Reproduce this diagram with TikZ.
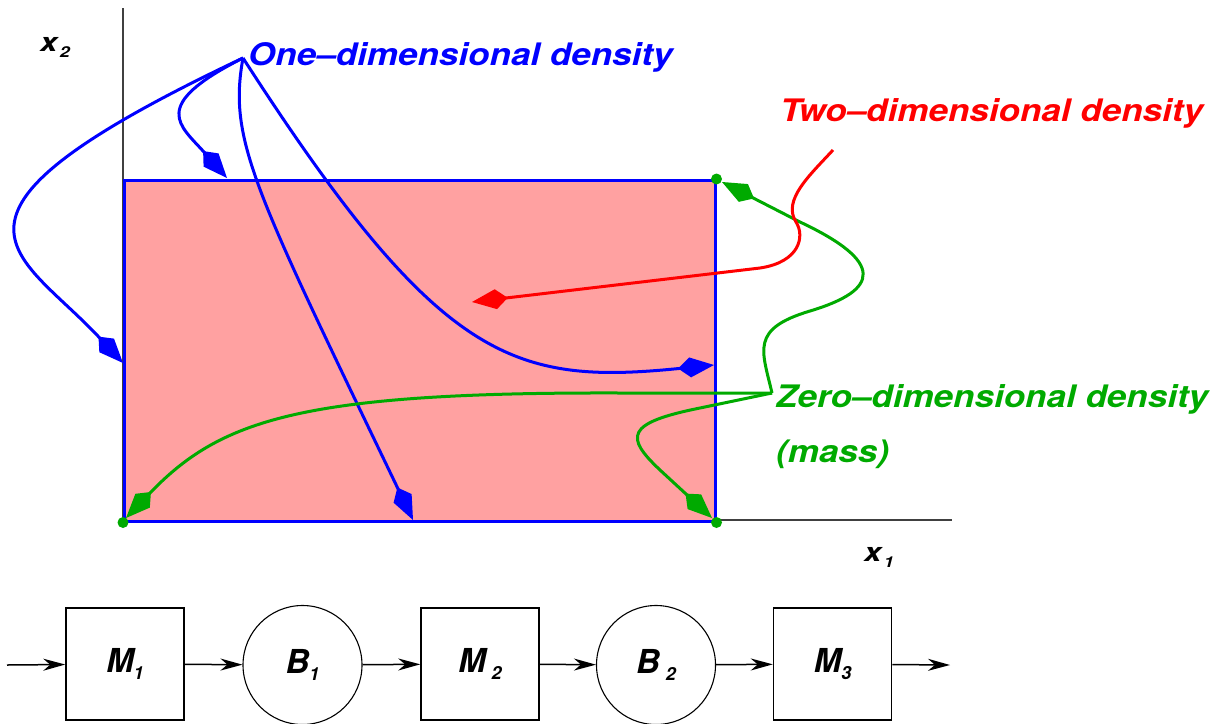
\documentclass[tikz,border=0pt]{standalone}
\usepackage{fontspec}
\setmainfont{TeX Gyre Heros}
\usetikzlibrary{arrows.meta}
\definecolor{pinkfill}{RGB}{255,161,161}
\definecolor{fgblue}{RGB}{0,0,255}
\definecolor{fggreen}{RGB}{0,170,0}
\definecolor{fgred}{RGB}{255,0,0}
\newcommand\bigfont{\fontsize{31}{31}\selectfont\bfseries\itshape}
\newcommand\stretchx[1]{\scalebox{1.13}[1]{#1}}
\newcommand\subl[3]{{\fontsize{33}{33}\selectfont\bfseries\itshape #1\hspace{#3}\raisebox{-7pt}{\fontsize{18}{18}\selectfont #2}}}
\newcommand\axl[2]{\scalebox{1.2}[1]{\fontsize{26}{26}\selectfont\bfseries\itshape #1\hspace{2pt}\raisebox{-6pt}{\fontsize{15}{15}\selectfont #2}}}
\begin{document}
\begin{tikzpicture}[x=1pt,y=-1pt,
  kite/.style={-{Kite[length=36pt,width=20pt,inset=12pt]}},
  dcurve/.style={line width=3pt, kite},
  axisline/.style={line width=1.4pt, black!75},
  dot/.style={circle, fill=fggreen, inner sep=0pt, minimum size=11pt},
  mbox/.style={draw, line width=1.5pt, minimum width=118pt, minimum height=112pt, inner sep=0pt},
  bcirc/.style={draw, circle, line width=1.1pt, minimum size=119pt, inner sep=0pt},
  flow/.style={line width=1.5pt, -{Stealth[length=22pt,width=12pt,inset=7pt]}},
  txt/.style={anchor=base west, inner sep=0pt}]
\useasboundingbox (0,0) rectangle (1214,723);
% axes
\coordinate (ytop) at (123,8);
\coordinate (orig) at (123,520);
\coordinate (xend) at (952,520);
\draw[axisline] (ytop) -- (orig) -- (xend);
\node[txt] (x2) at (40,51) {\axl{x}{2}};
\node[txt] (x1) at (864,561) {\axl{x}{1}};
% region
\node[draw=fgblue, fill=pinkfill, line width=2.5pt, minimum width=591pt, minimum height=341pt, inner sep=0pt, anchor=north west] (rect) at (123,179) {};
\node[dot] (dTR) at (rect.north east) {};
\node[dot] (dBL) at (rect.south west) {};
\node[dot] (dBR) at (rect.south east) {};
% labels
\node[txt, text=fgblue] (one) at (248,65) {\bigfont\stretchx{One–dimensional density}};
\node[txt, text=fgred] (two) at (780,121) {\bigfont\stretchx{Two–dimensional density}};
\node[txt, text=fggreen] (zero) at (776,407) {\bigfont\stretchx{Zero–dimensional density}};
\node[txt, text=fggreen] (mass) at (776,462) {\bigfont\stretchx{(mass)}};
% blue curves
\coordinate (o1) at (243,58);
\coordinate (tL) at (123,363);
\coordinate (tT) at (227,178);
\coordinate (tB) at (413,520);
\coordinate (tR) at (714,365);
\draw[dcurve, fgblue] (o1) .. controls (-95,218) and (18,250) .. (tL);
\draw[dcurve, fgblue] (o1) .. controls (148,106) and (180,125) .. (tT);
\draw[dcurve, fgblue] (o1) .. controls (228,140) and (254,189) .. (tB);
\draw[dcurve, fgblue] (o1) .. controls (440,364) and (514,385) .. (tR);
% green curves
\coordinate (gz) at (772,393);
\coordinate (gTR) at (722,182);
\coordinate (gBR) at (712,518);
\coordinate (gBL) at (126,518);
\draw[dcurve, fggreen] (gz) .. controls (762,350) and (750,329) .. (810,311) .. controls (880,290) and (885,262) .. (800,222) -- (gTR);
\draw[dcurve, fggreen] (gz) -- (700,408) .. controls (625,423) and (625,437) .. (660,470) -- (gBR);
\draw[dcurve, fggreen] (gz) -- (620,393) .. controls (300,392) and (220,420) .. (gBL);
% red curve
\coordinate (r0) at (833,150);
\coordinate (rT) at (472,302);
\draw[dcurve, fgred] (r0) .. controls (810,175) and (782,200) .. (796,222) .. controls (805,236) and (800,262) .. (760,268) -- (rT);
% chain
\coordinate (cin) at (7,665);
\coordinate (cout) at (950,665);
\node[mbox] (M1) at (125,664) {\subl{M}{1}{0pt}};
\node[bcirc] (B1) at (302.5,665) {\subl{B}{1}{0pt}};
\node[mbox] (M2) at (480,664) {\subl{M}{2}{6pt}};
\node[bcirc] (B2) at (656,665) {\subl{B}{2}{6pt}};
\node[mbox] (M3) at (832.5,664) {\subl{M}{3}{0pt}};
\draw[flow] (cin) -- (M1);
\draw[flow] (M1) -- (B1);
\draw[flow] (B1) -- (M2);
\draw[flow] (M2) -- (B2);
\draw[flow] (B2) -- (M3);
\draw[flow] (M3) -- (cout);
\end{tikzpicture}
\end{document}
